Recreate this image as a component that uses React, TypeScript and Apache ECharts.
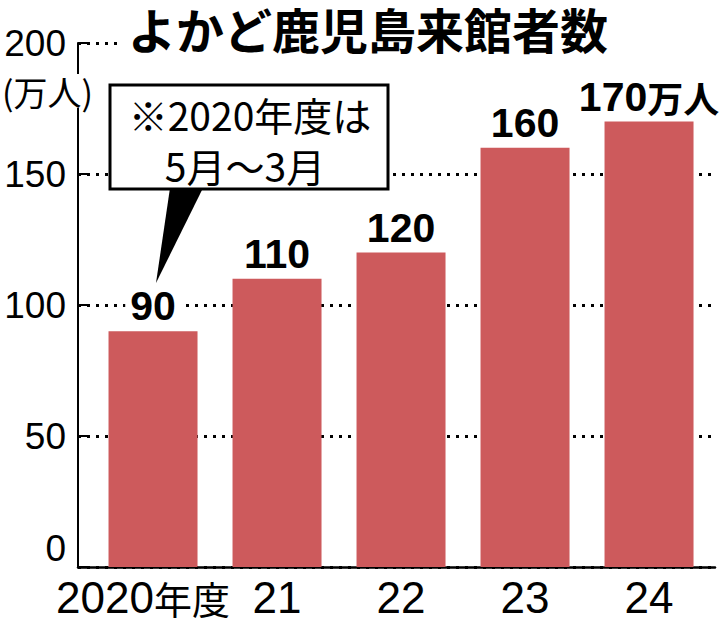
import React, { useEffect, useRef } from "react";
import * as echarts from "echarts";

const categories = ["2020年度", "21", "22", "23", "24"];
const visitors = [90, 110, 120, 160, 170];
const yTicks = [0, 50, 100, 150, 200];
const unitLabel = "万人";
const titleText = "よかど鹿児島来館者数";
const noteLines = ["※2020年度は", "5月～3月"];

const SANS = "'Liberation Sans', 'Noto Sans CJK JP', sans-serif";
const CJK = "'Noto Sans CJK JP', sans-serif";

export default function App() {
  const ref = useRef<HTMLDivElement>(null);
  useEffect(() => {
    if (!ref.current) return;
    const chart = echarts.init(ref.current, null, { renderer: "svg" });
    const last = visitors.length - 1;
    const yMin = yTicks[0];
    const yMax = yTicks[yTicks.length - 1];
    const yInt = yTicks[1] - yTicks[0];
    chart.setOption({
      animation: false,
      backgroundColor: "#ffffff",
      title: {
        text: titleText,
        left: 128,
        top: 4,
        padding: 0,
        z: 10,
        textStyle: { fontFamily: CJK, fontWeight: "bold", fontSize: 48, color: "#000" },
      },
      grid: { left: 78, right: 6, top: 43, bottom: 57, containLabel: false },
      xAxis: {
        type: "value",
        min: -0.605,
        max: 4.532,
        axisLine: { show: true, onZero: false, lineStyle: { color: "#000", width: 2.5 } },
        axisTick: { show: false },
        splitLine: { show: false },
        axisLabel: {
          customValues: categories.map((_, i) => i),
          margin: 8,
          hideOverlap: false,
          showMinLabel: true,
          showMaxLabel: true,
          formatter: (v: number) => {
            const c = categories[Math.round(v)];
            const m = c.match(/^(\d+)(.*)$/);
            if (m && m[2]) return `{d|${m[1]}}{c|${m[2]}}`;
            return `{d|${c}}`;
          },
          rich: {
            d: { fontFamily: SANS, fontSize: 44, color: "#000", lineHeight: 44 },
            c: { fontFamily: CJK, fontSize: 38, color: "#000", lineHeight: 44, padding: [0, 20, 0, 0] },
          },
        },
      },
      yAxis: [
        {
          type: "value",
          min: yMin,
          max: yMax,
          interval: yInt,
          axisLine: { show: true, onZero: false, lineStyle: { color: "#000", width: 2 } },
          axisTick: { show: true, inside: true, length: 10, lineStyle: { color: "#000", width: 2 } },
          splitLine: { show: true, lineStyle: { color: "#000", width: 3, type: [3, 6] } },
          axisLabel: {
            margin: 12,
            fontFamily: SANS,
            fontSize: 37,
            color: "#000",
            formatter: (v: number) => (v === yMin ? "" : String(v)),
          },
        },
        {
          type: "value",
          position: "left",
          min: yMin,
          max: yMax,
          interval: yInt,
          axisLine: { show: false, onZero: false },
          axisTick: { show: false },
          splitLine: { show: false },
          axisLabel: {
            margin: 12,
            fontFamily: SANS,
            fontSize: 37,
            color: "#000",
            verticalAlign: "bottom",
            formatter: (v: number) => (v === yMin ? String(v) : ""),
          },
        },
      ],
      series: [
        {
          type: "bar",
          yAxisIndex: 0,
          data: visitors.map((v, i) => [i, v]),
          barWidth: 89,
          itemStyle: { color: "#CD5A5C" },
          label: {
            show: true,
            position: "top",
            distance: 6,
            backgroundColor: "#ffffff",
            padding: [0, 5],
            formatter: (p: any) =>
              p.dataIndex === last ? `{n|${p.value[1]}}{u|${unitLabel}}` : `{n|${p.value[1]}}`,
            rich: {
              n: { fontFamily: SANS, fontWeight: "bold", fontSize: 41, color: "#000", lineHeight: 38 },
              u: { fontFamily: CJK, fontWeight: "bold", fontSize: 36, color: "#000", lineHeight: 38 },
            },
          },
        },
      ],
      graphic: [
        {
          type: "rect",
          z: 5,
          shape: { x: 118, y: 34, width: 603, height: 18 },
          style: { fill: "#ffffff" },
        },
        {
          type: "text",
          left: 2,
          top: 74,
          z: 100,
          style: {
            text: `(${unitLabel})`,
            fontFamily: CJK,
            fontSize: 34,
            fill: "#000",
            backgroundColor: "#ffffff",
          },
        },
        {
          type: "polygon",
          z: 100,
          shape: { points: [[170, 188], [203, 188], [156, 283]] },
          style: { fill: "#000" },
        },
        {
          type: "rect",
          z: 101,
          shape: { x: 110, y: 85, width: 278, height: 104 },
          style: { fill: "#ffffff", stroke: "#000", lineWidth: 3 },
        },
        {
          type: "text",
          z: 102,
          x: 250,
          y: 114,
          style: {
            text: noteLines[0],
            fontFamily: CJK,
            fontSize: 39,
            fill: "#000",
            align: "center",
            verticalAlign: "middle",
          },
        },
        {
          type: "text",
          z: 102,
          x: 245,
          y: 165,
          style: {
            text: noteLines[1],
            fontFamily: CJK,
            fontSize: 39,
            fill: "#000",
            align: "center",
            verticalAlign: "middle",
          },
        },
      ],
    });
    return () => chart.dispose();
  }, []);
  return (
    <div
      ref={ref}
      style={{ position: "absolute", left: 0, top: 0, width: 721, height: 624 }}
    />
  );
}
